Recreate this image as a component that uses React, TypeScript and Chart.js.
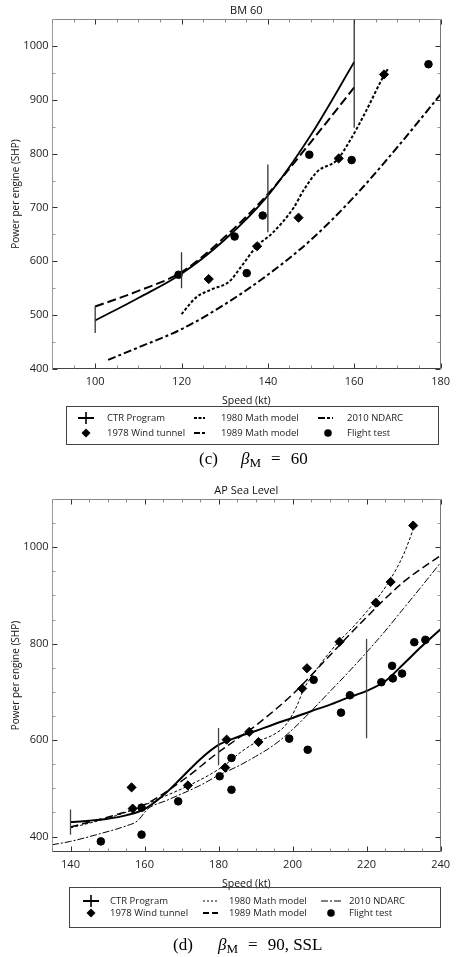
import React, { useEffect, useRef } from 'react';
import { Chart, registerables } from 'chart.js';

Chart.register(...registerables);

const SANS = '"Open Sans", "Noto Sans", "DejaVu Sans", sans-serif';
const SERIF = '"Liberation Serif", "Times New Roman", serif';

// ---------------- Chart (c): BM 60 ----------------
const bmXTicks = [100, 120, 140, 160, 180];
const bmYTicks = [400, 500, 600, 700, 800, 900, 1000];

const bmCtrSpeed = [100, 110, 120, 130, 140, 150, 160];
const bmCtrPower = [490, 532, 577, 640, 722, 835, 970];

const bmBarSpeed = [100, 120, 140, 160];
const bmBarLow = [467, 550, 654, 848];
const bmBarHigh = [517, 617, 780, 1100];

const bm1980Speed = [120, 123.4, 127, 131, 134, 137.4, 141, 146, 148.2, 151.5, 156, 159, 162.8, 166.6, 168];
const bm1980Power = [502, 533, 548, 562, 592, 628, 652, 700, 731, 767, 788, 824, 880, 941, 960];

const bm1989Speed = [100, 110, 120, 130, 140, 150, 160];
const bm1989Power = [516, 545, 580, 645, 725, 822, 923];

const bmNdarcSpeed = [103, 110, 120, 130, 140, 150, 160, 170, 180];
const bmNdarcPower = [417, 440, 474, 520, 575, 640, 720, 812, 910];

const bmWindSpeed = [126.3, 137.5, 147.1, 156.4, 166.9];
const bmWindPower = [567, 628, 681, 791, 947];

const bmFlightSpeed = [119.3, 132.3, 135.1, 138.8, 149.6, 159.4, 177.2];
const bmFlightPower = [575, 646, 578, 685, 798, 788, 966];

// ---------------- Chart (d): AP Sea Level ----------------
const apXTicks = [140, 160, 180, 200, 220, 240];
const apYTicks = [400, 600, 800, 1000];

const apCtrSpeed = [140, 145, 150, 155, 160, 165, 170, 175, 180, 185, 190, 195, 200, 205, 210, 215, 220, 225, 230, 235, 240];
const apCtrPower = [430, 433, 437, 444, 457, 485, 522, 560, 590, 606, 619, 633, 646, 660, 673, 688, 702, 722, 758, 795, 830];

const apBarSpeed = [140, 180, 220];
const apBarLow = [404, 548, 604];
const apBarHigh = [456, 625, 810];

const ap1980Speed = [140, 150, 157, 165, 172, 178, 182, 186, 190, 195, 198, 201, 203, 207, 212, 217, 222, 226, 230, 233];
const ap1980Power = [418, 438, 456, 482, 506, 530, 550, 575, 595, 612, 630, 668, 705, 752, 800, 840, 885, 928, 985, 1045];

const ap1989Speed = [140, 150, 160, 170, 180, 190, 200, 210, 220, 230, 240];
const ap1989Power = [420, 440, 466, 515, 575, 630, 695, 775, 855, 928, 983];

const apNdarcSpeed = [135, 140, 148, 155, 158, 161, 166, 175, 180, 185, 190, 195, 200, 205, 210, 215, 220, 225, 230, 235, 240];
const apNdarcPower = [383, 390, 406, 422, 432, 458, 475, 506, 527, 545, 566, 590, 622, 660, 700, 740, 782, 826, 873, 920, 968];

const apWindSpeed = [156.5, 156.8, 171.7, 182.2, 181.8, 188.3, 190.8, 202.6, 203.9, 212.7, 222.5, 226.5, 232.6];
const apWindPower = [502, 458, 506, 601, 543, 617, 596, 707, 749, 804, 885, 928, 1045];

const apFlightSpeed = [148.2, 159.2, 159.2, 169.1, 180.3, 183.5, 183.5, 199.1, 204.1, 205.7, 213.1, 215.5, 224, 226.9, 227.1, 229.6, 232.9, 235.9];
const apFlightPower = [390, 460, 404, 473, 525, 563, 497, 603, 580, 725, 657, 693, 720, 754, 728, 738, 803, 808];

// ---------------- helpers ----------------
const pts = (xs: number[], ys: number[]) => xs.map((x, i) => ({ x, y: ys[i] }));
const bars = (xs: number[], lo: number[], hi: number[]) =>
  xs.flatMap((x, i) => [{ x, y: lo[i] }, { x, y: hi[i] }, { x, y: null as any }]);

const frameTicks = {
  id: 'frameTicks',
  afterDatasetsDraw(chart: any, _args: any, opts: any) {
    const { ctx, chartArea: a } = chart;
    const xs = chart.scales.x;
    const ys = chart.scales.y;
    const L = Math.round(a.left) + 0.5;
    const R = Math.round(a.right) - 0.5;
    const T = Math.round(a.top) + 0.5;
    const B = Math.round(a.bottom) - 0.5;
    const line = (x1: number, y1: number, x2: number, y2: number, c: string) => {
      ctx.strokeStyle = c;
      ctx.beginPath();
      ctx.moveTo(x1, y1);
      ctx.lineTo(x2, y2);
      ctx.stroke();
    };
    ctx.save();
    ctx.lineWidth = 1;
    line(L, T, R, T, '#888');
    line(R, T, R, B, '#777');
    line(L, T, L, B, '#999');
    line(L, B, R, B, '#444');
    for (let v = Math.ceil(xs.min / opts.xMinor) * opts.xMinor; v <= xs.max + 1e-9; v += opts.xMinor) {
      const p = Math.round(xs.getPixelForValue(v)) + 0.5;
      const major = v % opts.xMajor === 0;
      const len = major ? 5 : 3;
      const c = major ? '#333' : '#888';
      line(p, B, p, B - len, c);
      line(p, T, p, T + len, c);
    }
    for (let v = Math.ceil(ys.min / opts.yMinor) * opts.yMinor; v <= ys.max + 1e-9; v += opts.yMinor) {
      const p = Math.round(ys.getPixelForValue(v)) + 0.5;
      const major = v % opts.yMajor === 0;
      const len = major ? 5 : 3;
      const c = major ? '#333' : '#999';
      line(L, p, L + len, p, c);
      line(R, p, R - len, p, c);
    }
    ctx.restore();
  },
};

function makeConfig(p: any) {
  const s = p.styles;
  const lineDs = (data: any, dash: number[], w: number) => ({
    data,
    showLine: true,
    borderColor: '#000',
    borderWidth: w,
    borderDash: dash,
    pointRadius: 0,
    tension: 0.4,
    cubicInterpolationMode: 'monotone',
    fill: false,
  });
  return {
    type: 'line',
    data: {
      datasets: [
        { ...lineDs(p.bars, [], 1.3), borderColor: s.barColor, tension: 0, cubicInterpolationMode: 'default', spanGaps: false },
        lineDs(p.ctr, [], s.ctrW),
        lineDs(p.m1989, s.d1989, s.w1989),
        lineDs(p.m1980, s.d1980, s.w1980),
        lineDs(p.ndarc, s.dNdarc, s.wNdarc),
        {
          data: p.wind,
          showLine: false,
          pointStyle: 'rectRot',
          pointRadius: 4.6,
          pointBackgroundColor: '#000',
          pointBorderColor: '#000',
          borderColor: '#000',
        },
        {
          data: p.flight,
          showLine: false,
          pointStyle: 'circle',
          pointRadius: 3.8,
          pointBackgroundColor: '#000',
          pointBorderColor: '#000',
          borderColor: '#000',
        },
      ],
    },
    options: {
      responsive: false,
      maintainAspectRatio: false,
      animation: false,
      events: [],
      layout: { padding: { left: 0, right: 5, top: 0, bottom: 0 } },
      plugins: {
        legend: { display: false },
        tooltip: { enabled: false },
        title: {
          display: true,
          text: p.title,
          fullSize: false,
          color: '#111',
          font: { family: SANS, size: 11, weight: 'normal', lineHeight: 1.2 },
          padding: { top: 4.5, bottom: 1.3 },
        },
        frameTicks: p.ticks,
      },
      scales: {
        x: {
          type: 'linear',
          min: p.xMin,
          max: p.xMax,
          afterBuildTicks: (ax: any) => {
            ax.ticks = p.xTicks.map((v: number) => ({ value: v }));
          },
          afterFit: (sc: any) => {
            sc.height = 40;
          },
          grid: { display: false, drawTicks: false },
          border: { display: false },
          ticks: {
            color: '#222',
            font: { family: SANS, size: 11 },
            padding: 6,
            maxRotation: 0,
            autoSkip: false,
            callback: (v: any) => String(v),
          },
          title: {
            display: true,
            text: 'Speed (kt)',
            color: '#111',
            font: { family: SANS, size: 10.5 },
            padding: { top: 0, bottom: 2 },
          },
        },
        y: {
          type: 'linear',
          min: p.yMin,
          max: p.yMax,
          afterBuildTicks: (ax: any) => {
            ax.ticks = p.yTicks.map((v: number) => ({ value: v }));
          },
          afterFit: (sc: any) => {
            sc.width = 52;
          },
          grid: { display: false, drawTicks: false },
          border: { display: false },
          ticks: {
            color: '#222',
            font: { family: SANS, size: 11 },
            padding: 3.5,
            autoSkip: false,
            callback: (v: any) => String(v),
          },
          title: {
            display: true,
            text: 'Power per engine (SHP)',
            color: '#111',
            font: { family: SANS, size: 10 },
            padding: { top: 10, bottom: 0 },
          },
        },
      },
    },
    plugins: [frameTicks],
  };
}

function ChartCanvas({ config, top, height }: { config: any; top: number; height: number }) {
  const ref = useRef<HTMLCanvasElement>(null);
  useEffect(() => {
    const chart = new Chart(ref.current as HTMLCanvasElement, config);
    return () => chart.destroy();
  }, [config]);
  return (
    <canvas
      ref={ref}
      width={456}
      height={height}
      style={{ position: 'absolute', left: 0, top, width: 456, height, display: 'block' }}
    />
  );
}

function Sym({ kind, w, dash, sw }: { kind: string; w: number; dash?: string; sw?: number }) {
  let inner: any = null;
  if (kind === 'cross') {
    inner = (
      <>
        <line x1={0} y1={6} x2={w} y2={6} stroke="#000" strokeWidth={2} />
        <line x1={w / 2} y1={0} x2={w / 2} y2={12} stroke="#000" strokeWidth={1.6} />
      </>
    );
  } else if (kind === 'diamond') {
    inner = <polygon points={`${w / 2},1.5 ${w / 2 + 4.5},6 ${w / 2},10.5 ${w / 2 - 4.5},6`} fill="#000" />;
  } else if (kind === 'circle') {
    inner = <circle cx={w / 2} cy={6} r={3.8} fill="#000" />;
  } else {
    inner = <line x1={0} y1={6} x2={w} y2={6} stroke="#000" strokeWidth={sw || 2} strokeDasharray={dash} />;
  }
  return (
    <svg width={w} height={12} style={{ position: 'absolute', left: 0, top: 0, overflow: 'visible' }}>
      {inner}
    </svg>
  );
}

function LegendItem({ x, w, y, textX, label, kind, dash, sw }: any) {
  return (
    <>
      <div style={{ position: 'absolute', left: x, top: y - 6, width: w, height: 12 }}>
        <Sym kind={kind} w={w} dash={dash} sw={sw} />
      </div>
      <div
        style={{
          position: 'absolute',
          left: textX,
          top: y - 7,
          height: 14,
          lineHeight: '14px',
          fontFamily: SANS,
          fontSize: 9.5,
          color: '#222',
          whiteSpace: 'nowrap',
        }}
      >
        {label}
      </div>
    </>
  );
}

function Caption({ tag, tagX, rest, restX, y }: any) {
  const base: any = {
    position: 'absolute',
    top: y - 11,
    height: 22,
    lineHeight: '22px',
    fontFamily: SERIF,
    fontSize: 17,
    color: '#000',
    whiteSpace: 'nowrap',
  };
  return (
    <>
      <div style={{ ...base, left: tagX }}>{tag}</div>
      <div style={{ ...base, left: restX }}>
        <i>β</i>
        <span style={{ fontSize: 13, position: 'relative', top: 3 }}>M</span>
        <span style={{ margin: '0 10px' }}>=</span>
        {rest}
      </div>
    </>
  );
}

const bmConfig = makeConfig({
  title: 'BM 60',
  xMin: 90,
  xMax: 180,
  yMin: 400,
  yMax: 1050,
  xTicks: bmXTicks,
  yTicks: bmYTicks,
  ticks: { xMinor: 5, xMajor: 20, yMinor: 50, yMajor: 100 },
  bars: bars(bmBarSpeed, bmBarLow, bmBarHigh),
  ctr: pts(bmCtrSpeed, bmCtrPower),
  m1980: pts(bm1980Speed, bm1980Power),
  m1989: pts(bm1989Speed, bm1989Power),
  ndarc: pts(bmNdarcSpeed, bmNdarcPower),
  wind: pts(bmWindSpeed, bmWindPower),
  flight: pts(bmFlightSpeed, bmFlightPower),
  styles: {
    ctrW: 1.8,
    barColor: '#333',
    d1980: [3, 2],
    w1980: 2,
    d1989: [9, 4],
    w1989: 2,
    dNdarc: [8, 3, 3, 3],
    wNdarc: 2,
  },
});

const apConfig = makeConfig({
  title: 'AP Sea Level',
  xMin: 135,
  xMax: 240,
  yMin: 368,
  yMax: 1100,
  xTicks: apXTicks,
  yTicks: apYTicks,
  ticks: { xMinor: 5, xMajor: 20, yMinor: 50, yMajor: 200 },
  bars: bars(apBarSpeed, apBarLow, apBarHigh),
  ctr: pts(apCtrSpeed, apCtrPower),
  m1980: pts(ap1980Speed, ap1980Power),
  m1989: pts(ap1989Speed, ap1989Power),
  ndarc: pts(apNdarcSpeed, apNdarcPower),
  wind: pts(apWindSpeed, apWindPower),
  flight: pts(apFlightSpeed, apFlightPower),
  styles: {
    ctrW: 2,
    barColor: '#444',
    d1980: [3, 2],
    w1980: 1,
    d1989: [8, 4],
    w1989: 1.5,
    dNdarc: [7, 2, 2, 2],
    wNdarc: 1,
  },
});

export default function App() {
  return (
    <div style={{ position: 'absolute', left: 0, top: 0, width: 456, height: 957, background: '#fff', overflow: 'hidden' }}>
      <ChartCanvas config={bmConfig} top={0} height={409} />
      <div style={{ position: 'absolute', left: 66, top: 405.5, width: 371, height: 37.5, border: '1px solid #444' }} />
      <LegendItem x={78} w={16} y={418.3} textX={107} label="CTR Program" kind="cross" />
      <LegendItem x={78} w={16} y={432.7} textX={107} label="1978 Wind tunnel" kind="diamond" />
      <LegendItem x={194} w={11} y={418.3} textX={221} label="1980 Math model" kind="dash" dash="3 1.5" sw={2} />
      <LegendItem x={194} w={11} y={432.7} textX={221} label="1989 Math model" kind="dash" dash="6 2" sw={2} />
      <LegendItem x={318} w={15} y={418.3} textX={347} label="2010 NDARC" kind="dash" dash="7 2 3 2" sw={2} />
      <LegendItem x={324} w={8} y={432.7} textX={347} label="Flight test" kind="circle" />
      <Caption tag="(c)" tagX={199} restX={241} rest="60" y={459} />

      <ChartCanvas config={apConfig} top={480} height={412} />
      <div style={{ position: 'absolute', left: 69, top: 887, width: 370, height: 39, border: '1px solid #444' }} />
      <LegendItem x={83} w={16} y={900.7} textX={110} label="CTR Program" kind="cross" />
      <LegendItem x={83} w={16} y={913.3} textX={110} label="1978 Wind tunnel" kind="diamond" />
      <LegendItem x={203} w={15} y={900.7} textX={229} label="1980 Math model" kind="dash" dash="2 2" sw={1} />
      <LegendItem x={203} w={15} y={913.3} textX={229} label="1989 Math model" kind="dash" dash="6 3" sw={1.8} />
      <LegendItem x={321} w={20} y={900.7} textX={349} label="2010 NDARC" kind="dash" dash="7 2 2 2" sw={1.2} />
      <LegendItem x={327} w={8} y={913.3} textX={349} label="Flight test" kind="circle" />
      <Caption tag="(d)" tagX={173} restX={218} rest="90, SSL" y={945} />
    </div>
  );
}
